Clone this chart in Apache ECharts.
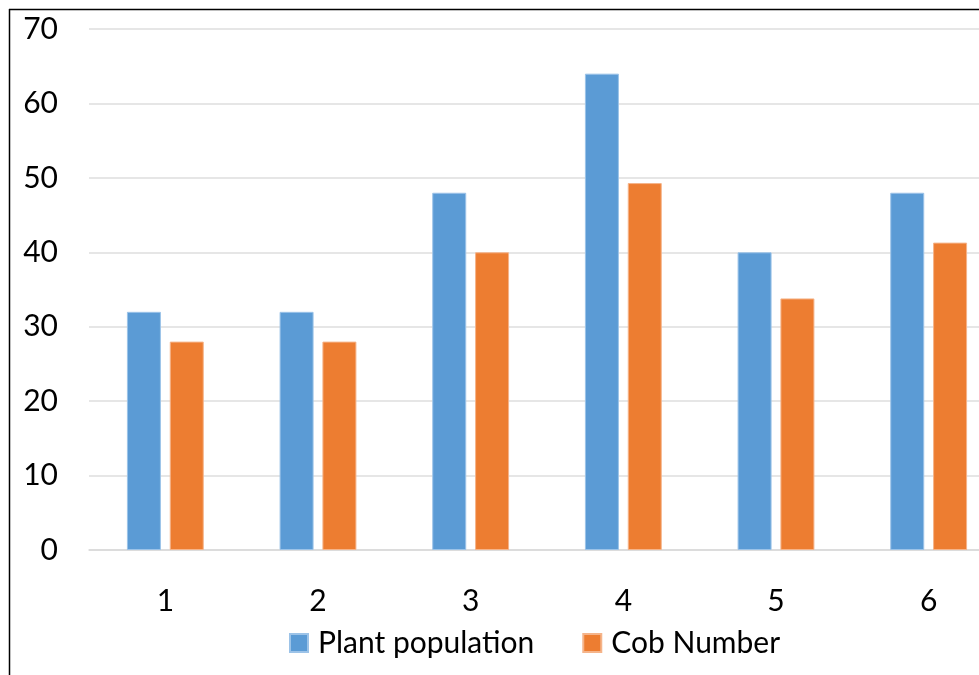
<!DOCTYPE html>
<html><head><meta charset="utf-8">
<script src="https://cdn.jsdelivr.net/npm/echarts@6/dist/echarts.min.js"></script>
<style>html,body{margin:0;padding:0;background:#fff;overflow:hidden;width:979px;height:675px;}#c{width:1010px;height:675px;}</style>
</head><body><div id="c"></div>
<script>
const categories = ['1','2','3','4','5','6'];
const plantPopulation = [32, 32, 48, 64, 40, 48];
const cobNumber = [28, 28, 40, 49.3, 33.8, 41.3];
const yTicks = {min: 0, max: 70, interval: 10};

const chart = echarts.init(document.getElementById('c'));
const font = 'Lato, "Open Sans", sans-serif';
chart.setOption({
  animation: false,
  backgroundColor: '#fff',
  grid: {left: 89, top: 29, bottom: 125, width: 916, outerBoundsMode: 'none'},
  legend: {
    left: 284, top: 623,
    itemWidth: 18, itemHeight: 18, itemGap: 48,
    icon: 'rect',
    textStyle: {fontFamily: font, fontSize: 30, color: '#000', padding: [0,0,0,5]},
    data: ['Plant population', 'Cob Number']
  },
  xAxis: {
    type: 'category', data: categories,
    axisLine: {lineStyle: {color: '#d9d9d9', width: 1.5}},
    axisTick: {show: false},
    axisLabel: {fontFamily: font, fontSize: 30, color: '#000', margin: 36}
  },
  yAxis: {
    type: 'value', min: yTicks.min, max: yTicks.max, interval: yTicks.interval,
    axisLine: {show: false}, axisTick: {show: false},
    splitLine: {lineStyle: {color: '#dedede', width: 1.5}},
    axisLabel: {fontFamily: font, fontSize: 30, color: '#000', margin: 31}
  },
  series: [
    {name: 'Plant population', type: 'bar', data: plantPopulation, barWidth: 34, barGap: '26%',
     itemStyle: {color: '#5b9bd5', borderColor: '#9cc3e8', borderWidth: 1}},
    {name: 'Cob Number', type: 'bar', data: cobNumber, barWidth: 34,
     itemStyle: {color: '#ed7d31', borderColor: '#f5b48a', borderWidth: 1}}
  ],
  graphic: [
    {type: 'line', shape: {x1: 9, y1: 9.5, x2: 1010, y2: 9.5}, style: {stroke: '#000', lineWidth: 1.5}, silent: true},
    {type: 'line', shape: {x1: 9.5, y1: 9, x2: 9.5, y2: 675}, style: {stroke: '#000', lineWidth: 1.5}, silent: true}
  ]
});
</script></body></html>
